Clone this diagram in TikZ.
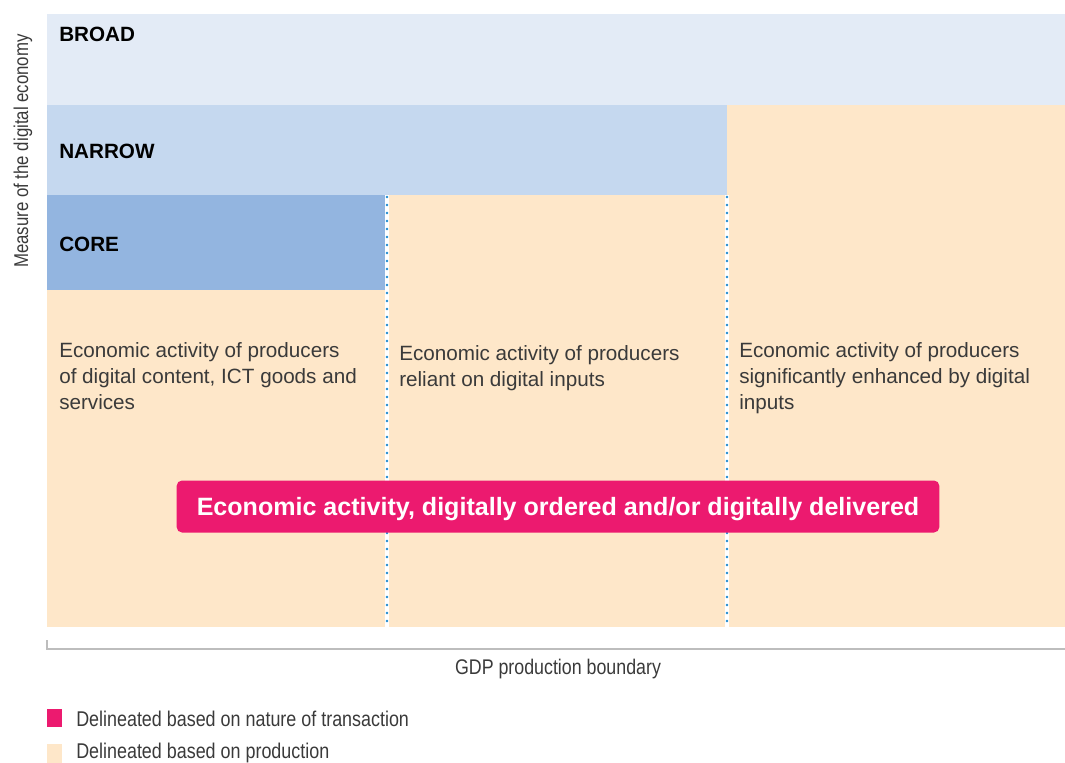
\documentclass[tikz,border=0pt]{standalone}
\usepackage{fontspec}
\setmainfont{Liberation Sans}
\newfontfamily\condfont[FakeStretch=0.84]{Liberation Sans}
\usetikzlibrary{positioning}

\definecolor{broadblue}{HTML}{E3EBF6}
\definecolor{narrowblue}{HTML}{C5D8EF}
\definecolor{coreblue}{HTML}{93B5E0}
\definecolor{peach}{HTML}{FEE7C9}
\definecolor{magenta}{HTML}{EC1A6F}
\definecolor{dotblue}{HTML}{1E8BD0}
\definecolor{boundgray}{HTML}{BDBDBD}
\definecolor{textgray}{HTML}{3A3A3A}

\tikzset{
    levellabel/.style={anchor=west, inner sep=0pt, text=black,
        font=\fontsize{15.5}{18}\selectfont\bfseries},
    activity/.style={anchor=north west, inner sep=0pt, align=left, text=textgray,
        font=\fontsize{15.5}{19.5}\selectfont},
    divider/.style={dotblue, line width=2.2pt, line cap=round, dash pattern=on 0pt off 6pt},
    legendtext/.style={anchor=west, inner sep=0pt, text=textgray,
        font=\condfont\fontsize{16}{18}\selectfont},
}

\begin{document}
\begin{tikzpicture}[x=0.75pt, y=-0.75pt]
    \useasboundingbox (0,0) rectangle (1065,763);

    % Bands of the measure
    \fill[broadblue] (47,14) rectangle (1065,105);
    \fill[narrowblue] (47,105) rectangle (727,195);
    \fill[peach] (727,105) rectangle (1065,627);
    \fill[peach] (387,195) rectangle (727,627);
    \fill[coreblue] (47,195) rectangle (387,290);
    \fill[peach] (47,290) rectangle (387,627);

    \node[levellabel] (broad) at (59,34) {BROAD};
    \node[levellabel] (narrow) at (59,151) {NARROW};
    \node[levellabel] (core) at (59,244) {CORE};

    % Vertical axis label
    \node[rotate=90, text=textgray, font=\condfont\fontsize{15}{17}\selectfont]
        (measure) at (23,151) {Measure of the digital economy};

    % Dividers between producer groups
    \foreach \x in {387,727} {
        \draw[white, line width=2.5pt] (\x,195) -- (\x,627);
        \draw[divider] (\x,197) -- (\x,627);
    }

    % Producer groups
    \node[activity] (content) at (59,342)
        {Economic activity of producers\\of digital content, ICT goods and\\services};
    \node[activity] (reliant) at (399,345)
        {Economic activity of producers\\reliant on digital inputs};
    \node[activity] (enhanced) at (739,342)
        {Economic activity of producers\\significantly enhanced by digital\\inputs};

    % Transaction based layer
    \node[fill=magenta, rounded corners=4pt, text=white, minimum width=572pt, minimum height=39pt,
        inner sep=0pt, text height=14pt, text depth=0pt, font=\fontsize{18.8}{22}\selectfont\bfseries]
        (ordered) at (558,506.5) {Economic activity, digitally ordered and/or digitally delivered};

    % GDP production boundary
    \coordinate (bstart) at (47,640);
    \coordinate (bcorner) at (47,649);
    \coordinate (bend) at (1065,649);
    \draw[boundgray, line width=1.5pt] (bstart) -- (bcorner) -- (bend);
    \node[text=textgray, inner sep=0pt, font=\condfont\fontsize{15.9}{18}\selectfont]
        (gdp) at (558,669.5) {GDP production boundary};

    % Legend
    \fill[magenta] (47,709) rectangle (62,727);
    \node[legendtext] (leg1) at (76,719) {Delineated based on nature of transaction};
    \fill[peach] (47,744) rectangle (62,763);
    \node[legendtext] (leg2) at (76,753) {Delineated based on production};
\end{tikzpicture}
\end{document}
